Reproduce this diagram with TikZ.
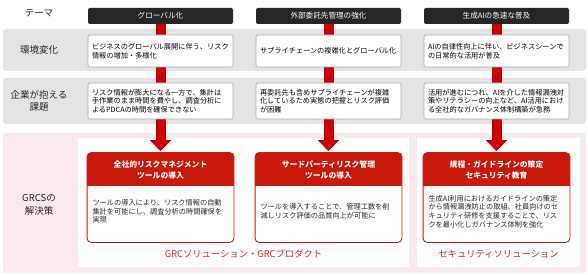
\documentclass[tikz,border=0pt]{standalone}
\usepackage{fontspec}
\setmainfont{Noto Sans CJK JP}
\usetikzlibrary{arrows.meta}
\definecolor{hdark}{HTML}{262626}
\definecolor{barred}{HTML}{CC0000}
\definecolor{cardred}{HTML}{C8180A}
\definecolor{bandgray}{HTML}{E4E4E4}
\definecolor{bandpink}{HTML}{F8EAEA}
\definecolor{boxline}{HTML}{ABABAB}
\definecolor{labred}{HTML}{D42A1E}
\tikzset{
  band/.style={fill=#1, draw=none, rounded corners=3pt},
  theme/.style={fill=hdark, rounded corners=2pt, minimum width=145pt, minimum height=16pt, inner sep=0pt, text=white, font=\fontsize{7.6}{9}\selectfont},
  infobox/.style={fill=white, draw=boxline, line width=0.6pt, rounded corners=2pt, minimum width=145pt, minimum height=#1, text width=137pt, inner xsep=4pt, inner ysep=0pt, align=left, font=\fontsize{7.2}{8.7}\selectfont},
  rowlabel/.style={align=center, font=\fontsize{9.5}{12.5}\selectfont, text=black!85},
  cardframe/.style={draw=cardred, line width=0.8pt, rounded corners=4pt, minimum width=146pt, minimum height=89pt, inner sep=0pt},
  cardhead/.style={text=white, align=center, font=\fontsize{7.8}{10.2}\selectfont\bfseries},
  cardbody/.style={text width=136pt, align=left, font=\fontsize{7.2}{8.7}\selectfont, text=black!85},
  sollabel/.style={text=labred, font=\fontsize{9.3}{11}\selectfont},
  flow/.style={draw=barred, line width=10pt},
}
\begin{document}
\begin{tikzpicture}[x=1pt,y=-1pt]
\useasboundingbox (0,0) rectangle (588,275);
% bands
\fill[band=bandgray] (3,29) rectangle (586,71);
\fill[band=bandgray] (3,78) rectangle (586,124);
\fill[band=bandpink] (3,133) rectangle (586,273);
\fill[white] (78,138) rectangle (409,267);
\fill[white] (417,138) rectangle (580,267);
% row labels
\node[rowlabel] (lt) at (39,13) {テーマ};
\node[rowlabel] (l1) at (39,50) {環境変化};
\node[rowlabel] (l2) at (39,101) {企業が抱える\\課題};
\node[rowlabel] (l3) at (39,205) {GRCSの\\解決策};
% themes
\node[theme] (t1) at (160.5,16) {グローバル化};
\node[theme] (t2) at (328.5,16) {外部委託先管理の強化};
\node[theme] (t3) at (496.5,16) {生成AIの急速な普及};
% cards (frames placed first for coordinates)
\node[cardframe] (c1) at (160.5,197.5) {};
\node[cardframe] (c2) at (328.5,197.5) {};
\node[cardframe] (c3) at (496.5,197.5) {};
% flows
\foreach \i in {1,2,3}{
  \draw[flow, -{Triangle[width=21pt,length=11pt]}] (t\i.south) -- ([yshift=1.5pt]c\i.north);
}
% environment boxes
\node[infobox=32pt] (e1) at (160.5,51) {ビジネスのグローバル展開に伴う、リスク\\情報の増加・多様化};
\node[infobox=32pt] (e2) at (328.5,51) {サプライチェーンの複雑化とグローバル化};
\node[infobox=32pt] (e3) at (496.5,51) {AIの自律性向上に伴い、ビジネスシーンで\\の日常的な活用が普及};
% issue boxes
\node[infobox=36pt] (i1) at (160.5,101) {リスク情報が膨大になる一方で、集計は\\手作業のまま時間を費やし、調査分析に\\よるPDCAの時間を確保できない};
\node[infobox=36pt] (i2) at (328.5,101) {再委託先も含めサプライチェーンが複雑\\化しているため実態の把握とリスク評価\\が困難};
\node[infobox=36pt] (i3) at (496.5,101) {活用が進むにつれ、AIを介した情報漏洩対\\策やリテラシーの向上など、AI活用におけ\\る全社的なガバナンス体制構築が急務};
% card fills
\foreach \i in {1,2,3}{
  \begin{scope}
    \clip[rounded corners=4pt] (c\i.north west) rectangle (c\i.south east);
    \fill[white] (c\i.north west) rectangle (c\i.south east);
    \fill[cardred] (c\i.north west) rectangle ([yshift=-33pt]c\i.north east);
  \end{scope}
  \draw[cardred, line width=0.8pt, rounded corners=4pt] (c\i.north west) rectangle (c\i.south east);
}
\node[cardhead] (h1) at (160.5,170) {全社的リスクマネジメント\\ツールの導入};
\node[cardhead] (h2) at (328.5,170) {サードパーティリスク管理\\ツールの導入};
\node[cardhead] (h3) at (496.5,170) {規程・ガイドラインの策定\\セキュリティ教育};
\node[cardbody] (b1) at (160.5,211.5) {ツールの導入により、リスク情報の自動\\集計を可能にし、調査分析の時間確保を\\実現};
\node[cardbody] (b2) at (328.5,211.5) {ツールを導入することで、管理工数を削\\減しリスク評価の品質向上が可能に};
\node[cardbody] (b3) at (496.5,211.5) {生成AI利用におけるガイドラインの策定\\から情報漏洩防止の取組、社員向けのセ\\キュリティ研修を支援することで、リス\\クを最小化しガバナンス体制を強化};
% solution labels
\node[sollabel] (s1) at (243.5,254) {GRCソリューション・GRCプロダクト};
\node[sollabel] (s2) at (498.5,254) {セキュリティソリューション};
\end{tikzpicture}
\end{document}
